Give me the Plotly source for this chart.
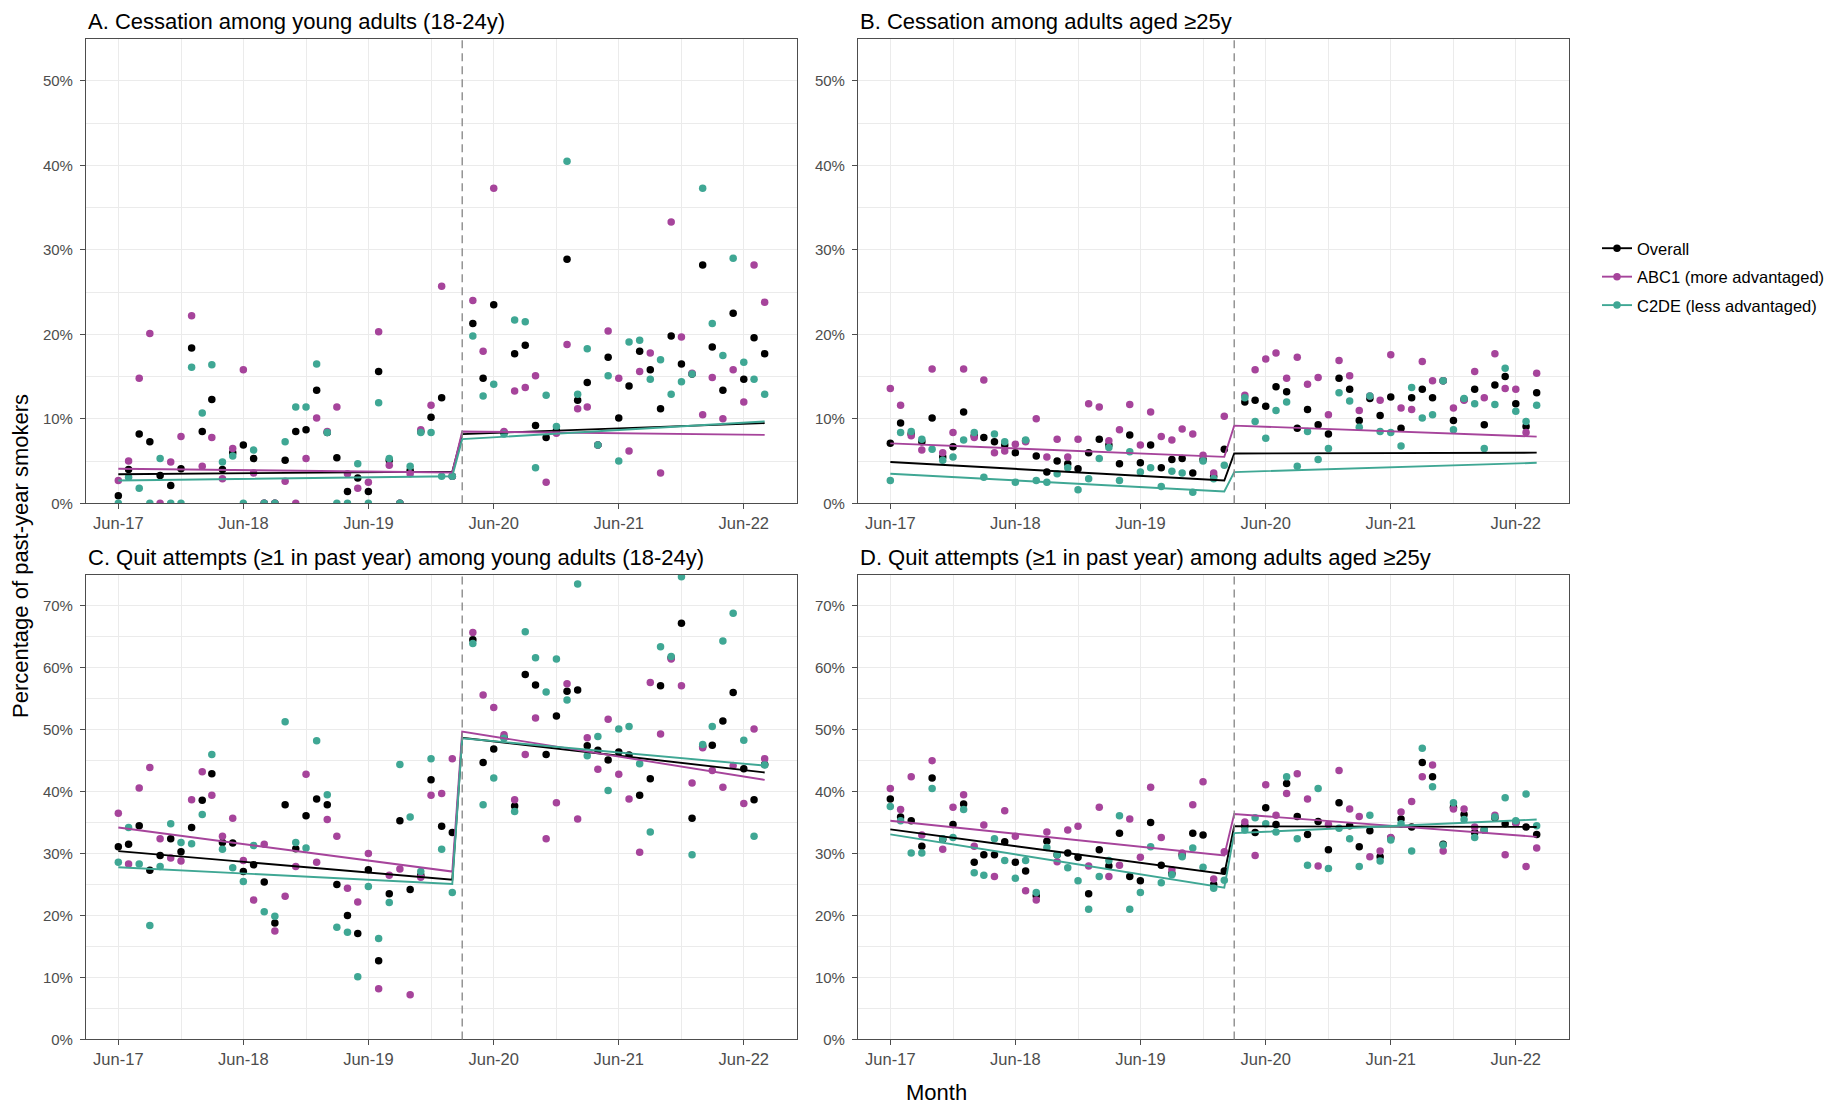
import pandas as pd
import plotly.graph_objects as go

# ---------------- data (percent of past-year smokers) ----------------
all_months = pd.date_range("2017-06-01", "2022-08-01", freq="MS")
months = [d for d in all_months if d != pd.Timestamp("2020-03-01")]  # no survey data Mar-20
fit_x = ["2017-06-01", "2020-02-01", "2020-03-01", "2022-08-01"]
lockdown = "2020-03-01"

series_names = ["Overall", "ABC1 (more advantaged)", "C2DE (less advantaged)"]

# Panel A: cessation, 18-24y
a_overall = [0.9, 4.0, 8.2, 7.3, 3.3, 2.1, 4.1, 18.4, 8.5, 12.3, 4.0, 6.0, 6.9, 5.3, 0.0, 0.0, 5.1, 8.5, 8.7, 13.4,
             8.4, 5.4, 1.4, 3.0, 1.4, 15.6, 5.1, 0.0, 3.9, 8.5, 10.2, 12.5, 3.2,
             21.3, 14.8, 23.5, 8.4, 17.7, 18.7, 9.2, 7.8, 8.6, 28.9, 12.2, 14.3, 6.9, 17.3, 10.1, 13.9, 18.0, 15.8,
             11.2, 19.8, 16.5, 15.3, 28.2, 18.5, 13.4, 22.5, 14.7, 19.6, 17.7]
a_abc1 = [2.7, 5.0, 14.8, 20.1, 0.0, 4.9, 7.9, 22.2, 4.4, 7.8, 2.9, 6.5, 15.8, 3.6, 0.0, 0.0, 2.6, 0.0, 5.3, 10.1,
          8.5, 11.4, 3.5, 1.8, 2.5, 20.3, 4.5, 0.0, 3.5, 8.7, 11.6, 25.7, 3.2,
          24.0, 18.0, 37.3, 8.5, 13.3, 13.7, 15.1, 2.5, 8.3, 18.8, 11.2, 11.4, 6.9, 20.4, 14.8, 6.2, 15.6, 17.8,
          3.6, 33.3, 19.7, 15.4, 10.5, 14.9, 10.0, 15.8, 12.0, 28.2, 23.8]
a_c2de = [0.0, 3.1, 1.8, 0.0, 5.3, 0.0, 0.0, 16.1, 10.7, 16.4, 4.9, 5.6, 0.0, 6.3, 0.0, 0.0, 7.3, 11.4, 11.4, 16.5,
          8.4, 0.0, 0.0, 4.7, 0.0, 11.9, 5.3, 0.0, 4.4, 8.4, 8.4, 3.2, 3.2,
          19.8, 12.7, 14.1, 8.2, 21.7, 21.5, 4.2, 12.8, 9.1, 40.5, 12.9, 18.3, 6.9, 15.1, 5.0, 19.1, 19.3, 14.7,
          17.0, 12.9, 14.4, 15.3, 37.3, 21.3, 17.5, 29.0, 16.7, 14.7, 12.9]
a_fit_overall = [3.45, 3.75, 8.2, 9.5]
a_fit_abc1 = [4.1, 3.65, 8.5, 8.1]
a_fit_c2de = [2.7, 3.2, 7.6, 9.7]

# Panel B: cessation, >=25y
b_overall = [7.1, 9.5, 8.2, 7.3, 10.1, 5.5, 6.7, 10.8, 8.0, 7.8, 7.3, 6.9, 6.0, 7.4, 5.6, 3.7, 5.0, 4.7, 4.1, 6.0,
             7.6, 6.9, 4.7, 8.1, 4.8, 6.9, 4.2, 5.2, 5.3, 3.6, 5.2, 3.2, 6.4,
             12.0, 12.2, 11.5, 13.8, 13.2, 8.9, 11.1, 9.3, 8.2, 14.8, 13.5, 9.8, 12.4, 10.4, 12.6, 8.9, 12.5, 13.5,
             12.5, 14.5, 9.8, 12.3, 13.5, 9.3, 14.0, 15.0, 11.8, 9.1, 13.1]
b_abc1 = [13.6, 11.6, 8.0, 6.3, 15.9, 6.0, 8.4, 15.9, 7.8, 14.6, 6.0, 6.2, 7.0, 7.3, 10.0, 5.5, 7.6, 5.5, 7.6, 11.8,
          11.4, 7.4, 8.7, 11.7, 6.9, 10.8, 7.9, 7.5, 8.8, 8.2, 5.7, 3.6, 10.3,
          12.8, 15.8, 17.1, 17.8, 14.8, 17.3, 14.1, 14.9, 10.5, 16.9, 15.1, 11.0, 12.7, 12.2, 17.6, 11.3, 11.1,
          16.8, 14.5, 14.5, 11.3, 12.2, 15.6, 12.5, 17.7, 13.6, 13.5, 8.4, 15.4]
b_c2de = [2.7, 8.4, 8.5, 7.6, 6.4, 5.1, 5.5, 7.5, 8.4, 3.1, 8.2, 7.3, 2.5, 7.5, 2.7, 2.5, 3.5, 4.2, 1.6, 2.9,
          5.3, 6.6, 2.7, 6.1, 3.7, 4.2, 2.0, 3.8, 3.6, 1.3, 5.0, 2.9, 4.5,
          12.5, 9.7, 7.7, 11.0, 12.0, 4.4, 8.5, 5.2, 6.5, 13.1, 12.1, 9.0, 12.7, 8.5, 8.4, 6.8, 13.7, 10.1, 10.5,
          14.5, 8.7, 12.4, 11.8, 6.5, 11.7, 16.0, 10.9, 9.7, 11.6]
b_fit_overall = [4.9, 2.7, 5.9, 6.0]
b_fit_abc1 = [7.1, 5.5, 9.2, 7.9]
b_fit_c2de = [3.5, 1.4, 3.7, 4.8]

# Panel C: quit attempts, 18-24y
c_overall = [31.1, 31.5, 34.5, 27.3, 29.7, 32.4, 30.3, 34.2, 38.6, 42.9, 31.8, 31.7, 27.1, 28.2, 25.4, 18.8, 37.9,
             30.8, 36.1, 38.8, 37.9, 25.0, 20.0, 17.1, 27.4, 12.7, 23.5, 35.3, 24.2, 26.5, 41.9, 34.4, 33.4,
             64.5, 44.7, 46.9, 48.8, 37.7, 58.9, 57.2, 46.0, 52.2, 56.2, 56.4, 47.4, 46.7, 45.1, 46.4, 45.9, 39.4,
             42.1, 57.1, 61.6, 67.2, 35.7, 47.3, 47.5, 51.4, 56.0, 43.7, 38.7, 44.4]
c_abc1 = [36.5, 28.3, 40.6, 43.9, 32.4, 29.3, 28.8, 38.7, 43.2, 39.4, 32.8, 35.7, 28.9, 22.5, 31.5, 17.5, 23.1,
          27.9, 42.8, 28.6, 35.5, 32.8, 24.4, 22.2, 30.0, 8.2, 26.5, 27.5, 7.2, 26.2, 39.4, 39.7, 45.3,
          65.7, 55.6, 53.6, 49.2, 38.7, 46.0, 51.9, 32.4, 38.2, 57.4, 35.6, 48.7, 43.6, 51.7, 42.8, 38.8, 30.2,
          57.6, 49.3, 61.4, 57.1, 41.4, 47.1, 43.4, 40.7, 44.2, 38.1, 50.1, 45.3]
c_c2de = [28.6, 34.2, 28.3, 18.4, 27.9, 34.8, 31.8, 31.6, 36.3, 46.0, 30.7, 27.7, 25.5, 31.3, 20.6, 19.9, 51.3,
          31.8, 30.9, 48.2, 39.5, 18.1, 17.3, 10.1, 24.7, 16.3, 22.1, 44.4, 35.9, 27.1, 45.3, 30.7, 23.7,
          63.9, 37.9, 42.2, 48.6, 36.8, 65.8, 61.6, 56.1, 61.4, 54.8, 73.5, 45.8, 48.9, 40.2, 50.1, 50.5, 44.5,
          33.5, 63.4, 61.8, 74.7, 29.8, 47.6, 50.5, 64.3, 68.8, 48.3, 32.8, 44.3]
c_fit_overall = [30.4, 25.8, 48.7, 43.1]
c_fit_abc1 = [34.2, 27.1, 49.7, 41.9]
c_fit_c2de = [27.8, 25.1, 48.6, 44.2]

# Panel D: quit attempts, >=25y
d_overall = [38.8, 35.9, 35.3, 31.2, 42.2, 32.3, 34.7, 38.0, 28.6, 29.8, 29.8, 31.9, 28.6, 27.2, 23.2, 32.0, 29.8,
             30.1, 29.4, 23.5, 30.6, 28.0, 33.3, 26.3, 25.6, 35.0, 28.1, 26.8, 29.8, 33.3, 33.0, 25.0, 27.2,
             34.5, 33.4, 37.4, 34.7, 41.3, 36.0, 33.1, 35.2, 30.6, 38.2, 34.5, 31.1, 33.7, 29.5, 32.5, 35.6, 34.3,
             44.7, 42.4, 31.5, 37.5, 36.3, 33.4, 33.8, 35.8, 34.8, 35.0, 34.3, 33.1]
d_abc1 = [40.5, 37.1, 42.4, 33.0, 45.0, 30.7, 37.5, 39.5, 31.2, 34.6, 26.3, 36.9, 32.8, 24.0, 22.5, 33.5, 28.7,
          33.8, 34.4, 28.0, 37.5, 26.3, 28.1, 35.6, 29.4, 40.7, 32.6, 27.4, 30.1, 37.9, 41.6, 25.9, 30.3,
          35.1, 29.7, 41.1, 36.2, 39.7, 42.9, 38.8, 28.0, 34.7, 43.4, 37.2, 36.0, 29.5, 30.4, 32.6, 36.7, 38.4,
          42.4, 44.3, 30.4, 37.2, 37.2, 34.3, 33.8, 36.2, 29.8, 34.9, 27.9, 30.9]
d_c2de = [37.6, 35.3, 30.1, 30.1, 40.5, 32.4, 32.6, 37.1, 26.9, 26.5, 32.4, 28.9, 26.0, 28.9, 23.7, 31.0, 29.8,
          27.7, 25.6, 21.0, 26.3, 28.9, 36.1, 21.0, 23.7, 31.1, 25.3, 26.6, 29.5, 30.9, 27.8, 24.4, 25.7,
          33.8, 35.8, 34.8, 33.5, 42.4, 32.4, 28.1, 40.5, 27.6, 34.1, 32.4, 27.9, 36.2, 28.8, 32.2, 34.8, 30.4,
          47.0, 40.8, 31.4, 38.2, 35.5, 32.6, 33.8, 35.9, 39.0, 35.3, 39.6, 34.5]
d_fit_overall = [33.9, 26.7, 34.4, 34.3]
d_fit_abc1 = [35.3, 29.7, 36.4, 32.7]
d_fit_c2de = [33.1, 24.5, 33.3, 35.5]

panel_titles = ["A. Cessation among young adults (18-24y)",
                "B. Cessation among adults aged \u226525y",
                "C. Quit attempts (\u22651 in past year) among young adults (18-24y)",
                "D. Quit attempts (\u22651 in past year) among adults aged \u226525y"]
y_max = [0.55, 0.55, 0.75, 0.75]
x_tickvals = ["2017-06-01", "2018-06-01", "2019-06-01", "2020-06-01", "2021-06-01", "2022-06-01"]
x_ticktext = ["Jun-17", "Jun-18", "Jun-19", "Jun-20", "Jun-21", "Jun-22"]
x_minorvals = ["2017-12-01", "2018-12-01", "2019-12-01", "2020-12-01", "2021-12-01"]

# ---------------- styling ----------------
W, H = 1844, 1107
colors = ["#000000", "#A6449B", "#3FA794"]
FONT = "Liberation Sans, Arial, sans-serif"
panels_px = [  # left, right, top, bottom in pixels
    (86, 797, 39, 507), (858, 1569, 39, 507),
    (86, 797, 579, 1047), (858, 1569, 579, 1047)]

panel_data = [
    ([a_overall, a_abc1, a_c2de], [a_fit_overall, a_fit_abc1, a_fit_c2de]),
    ([b_overall, b_abc1, b_c2de], [b_fit_overall, b_fit_abc1, b_fit_c2de]),
    ([c_overall, c_abc1, c_c2de], [c_fit_overall, c_fit_abc1, c_fit_c2de]),
    ([d_overall, d_abc1, d_c2de], [d_fit_overall, d_fit_abc1, d_fit_c2de]),
]

span = pd.Timestamp("2022-08-01") - pd.Timestamp("2017-06-01")
x_range = [pd.Timestamp("2017-06-01") - span * 0.05, pd.Timestamp("2022-08-01") + span * 0.05]

fig = go.Figure()
layout = dict(width=W, height=H, margin=dict(l=0, r=0, t=0, b=0),
              paper_bgcolor="white", plot_bgcolor="white",
              font=dict(family=FONT, color="#000000"), showlegend=True)
annotations = []
shapes = []

for i, ((pts, fits), (l, r, t, b)) in enumerate(zip(panel_data, panels_px)):
    k = "" if i == 0 else str(i + 1)
    xa, ya = "x" + k, "y" + k
    for vals, col, name in zip(pts, colors, series_names):
        fig.add_trace(go.Scatter(x=months, y=[v / 100 for v in vals], mode="markers", xaxis=xa, yaxis=ya,
                                 marker=dict(color=col, size=7.5, line=dict(width=0)),
                                 showlegend=False, name=name, hoverinfo="skip"))
    for vals, col, name in zip(fits, colors, series_names):
        fig.add_trace(go.Scatter(x=fit_x, y=[v / 100 for v in vals], mode="lines", xaxis=xa, yaxis=ya,
                                 line=dict(color=col, width=1.9), showlegend=False, name=name,
                                 hoverinfo="skip"))
    axcommon = dict(showline=True, mirror=True, linecolor="#4D4D4D", linewidth=1.1,
                    ticks="outside", ticklen=5, tickcolor="#4D4D4D", tickwidth=1,
                    showgrid=True, gridcolor="#EBEBEB", gridwidth=1.2, zeroline=False)
    layout["xaxis" + k] = dict(axcommon, type="date", domain=[l / W, r / W], anchor=ya,
                               range=x_range, tickvals=x_tickvals, ticktext=x_ticktext,
                               tickfont=dict(family=FONT, size=16.5, color="#4D4D4D"),
                               minor=dict(tickvals=x_minorvals, showgrid=True, gridcolor="#EBEBEB",
                                          gridwidth=0.8, ticks=""))
    layout["yaxis" + k] = dict(axcommon, domain=[1 - b / H, 1 - t / H], anchor=xa,
                               range=[0, y_max[i]], dtick=0.1, tick0=0, tickformat=".0%",
                               ticklabelstandoff=4,
                               tickfont=dict(family=FONT, size=15, color="#4D4D4D"),
                               minor=dict(dtick=0.05, tick0=0, showgrid=True, gridcolor="#EBEBEB",
                                          gridwidth=0.8, ticks=""))
    shapes.append(dict(type="line", xref=xa, yref=ya + " domain", x0=lockdown, x1=lockdown, y0=0, y1=1,
                       line=dict(color="#8C8C8C", width=1.4, dash="8px,5px"), layer="above"))
    annotations.append(dict(text=panel_titles[i], xref="paper", yref="paper", x=l / W, y=1 - (t - 3) / H,
                            xanchor="left", yanchor="bottom", showarrow=False,
                            font=dict(family=FONT, size=22, color="#000000")))

# legend carriers
for col, name in zip(colors, series_names):
    fig.add_trace(go.Scatter(x=[None], y=[None], mode="lines+markers", name=name, legendgroup=name,
                             line=dict(color=col, width=1.9), marker=dict(color=col, size=7.5)))

annotations.append(dict(text="Month", xref="paper", yref="paper", x=936 / W, y=1 - 1100 / H,
                        xanchor="center", yanchor="middle", showarrow=False,
                        font=dict(family=FONT, size=22, color="#000000")))
annotations.append(dict(text="Percentage of past-year smokers", xref="paper", yref="paper", x=21 / W,
                        y=1 - 560 / H, xanchor="center", yanchor="middle", textangle=-90, showarrow=False,
                        font=dict(family=FONT, size=22, color="#000000")))

layout["annotations"] = annotations
layout["shapes"] = shapes
layout["legend"] = dict(x=1597 / W, y=1 - 279 / H, xanchor="left", yanchor="middle",
                        font=dict(family=FONT, size=16.5, color="#000000"), tracegroupgap=4,
                        bgcolor="rgba(0,0,0,0)", itemwidth=30)
fig.update_layout(**layout)
fig.write_html("out.html")
